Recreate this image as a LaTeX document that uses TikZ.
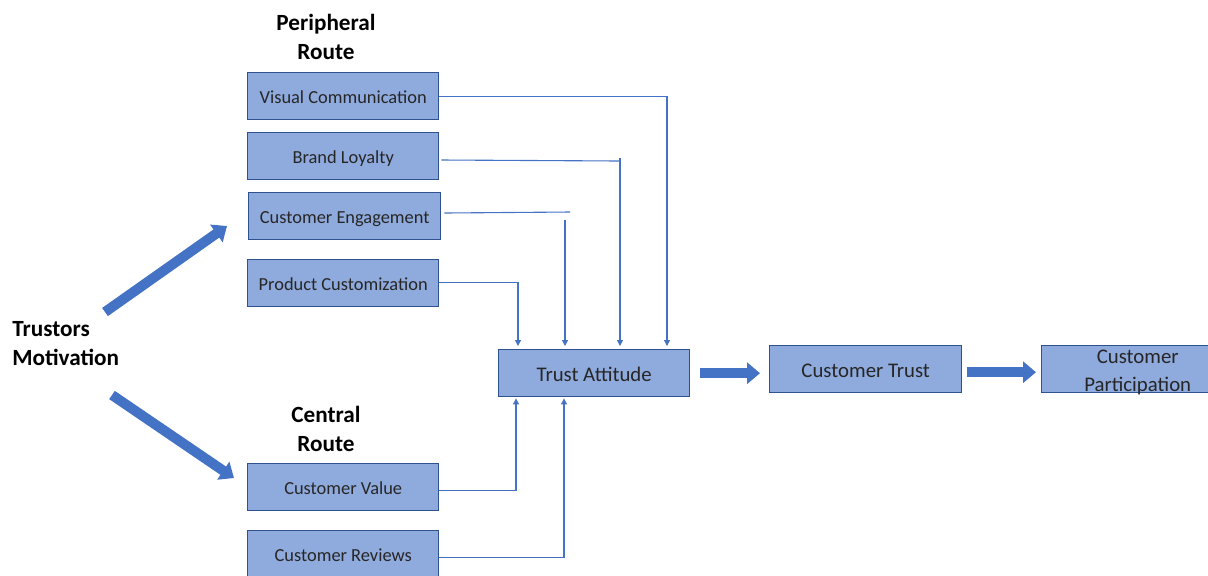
\documentclass[tikz,border=0pt]{standalone}
\usepackage{fontspec}
\setmainfont{Carlito}
\usetikzlibrary{arrows.meta,calc}
\definecolor{boxfill}{HTML}{8FAADC}
\definecolor{boxline}{HTML}{2F528F}
\definecolor{linkblue}{HTML}{4472C4}
\begin{document}
\begin{tikzpicture}[x=0.5pt,y=-0.5pt,
  factor/.style={draw=boxline,fill=boxfill,line width=0.7pt,anchor=north west,
    minimum width=95.5pt,minimum height=23.5pt,inner sep=0pt,align=center,
    text height=7.4pt,text depth=0.5pt,
    font=\fontsize{9.2}{11}\selectfont,text=black!85},
  stage/.style={factor,font=\fontsize{10.4}{14}\selectfont,text height=9pt,text depth=0.5pt},
  heading/.style={font=\bfseries\fontsize{11.6}{14.5}\selectfont,align=center,inner sep=0pt},
  link/.style={draw=linkblue,line width=0.55pt,-{Triangle[length=3pt,width=3pt]}},
  plain/.style={draw=linkblue,line width=0.55pt},
  bigarrow/.style={draw=linkblue,line width=5pt,-{Triangle[length=6.5pt,width=10.5pt]}}]
\useasboundingbox (0,0) rectangle (1208,575);

% headings
\node[heading] (peri) at (326,36.5) {Peripheral\\Route};
\node[heading] (cent) at (326,428.5) {Central\\Route};
\node[heading,anchor=west,align=left] (motiv) at (12,344) {Trustors\\Motivation};

% peripheral-route factors
\node[factor] (vc) at (247,72) {Visual Communication};
\node[factor] (bl) at (247,132) {Brand Loyalty};
\node[factor,minimum width=96pt] (ce) at (248,192) {Customer Engagement};
\node[factor] (pc) at (247,259) {Product Customization};

% central-route factors
\node[factor] (cv) at (247,463) {Customer Value};
\node[factor] (cr) at (247,530) {Customer Reviews};

% outcome chain
\node[stage] (ta) at (498,349) {Trust Attitude};
\node[stage,minimum width=96pt] (ct) at (769,345) {Customer Trust};
\node[stage,minimum width=96pt,text height=22.85pt,text depth=0.65pt] (cp) at (1041,345) {Customer\\Participation};

% motivation arrows
\coordinate (upTail) at (105,312);
\coordinate (upTip) at (227,226);
\coordinate (dnTail) at (112,395);
\coordinate (dnTip) at (234,478);
\draw[bigarrow] (upTail) -- (upTip);
\draw[bigarrow] (dnTail) -- (dnTip);

% peripheral links into the attitude
\draw[link] (vc.east) -| ($(ta.north west)+(169,-3)$);
\draw[plain] ($(bl.north east)+(2,28)$) -- ($(ta.north west)+(122,-188)$) coordinate (blc);
\draw[link] ($(blc)+(0,-3)$) -- ($(ta.north west)+(122,-3)$);
\draw[plain] ($(ce.north east)+(3,21)$) -- ($(ta.north west)+(72,-137)$);
\draw[link] ($(ta.north west)+(67,-129)$) -- ($(ta.north west)+(67,-3)$);
\draw[link] ($(pc.east)+(0,-0.5)$) -| ($(ta.north west)+(20,-3)$);

% central links into the attitude
\draw[link] ($(cv.east)+(0,3)$) -| ($(ta.south west)+(18,1)$);
\draw[link] ($(cr.east)+(0,3)$) -| ($(ta.south west)+(66,1)$);

% outcome arrows
\draw[bigarrow] ($(ta.east)+(10,0)$) -- ($(ta.east -| ct.west)+(-9,0)$);
\draw[bigarrow] ($(ct.east)+(5,3)$) -- ($(ct.east -| cp.west)+(-5,3)$);
\end{tikzpicture}
\end{document}
